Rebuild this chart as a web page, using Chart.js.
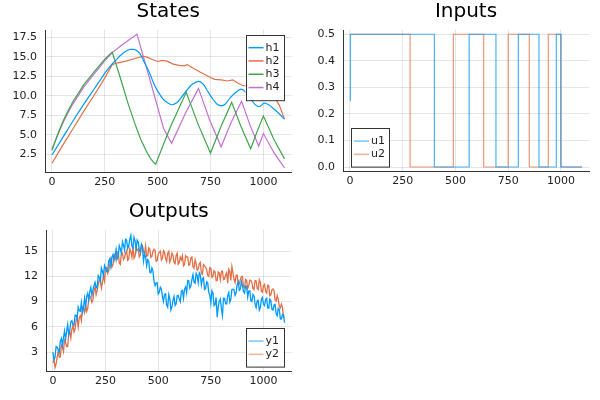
<!DOCTYPE html>
<html lang="en">
<head>
  <meta charset="UTF-8">
  <title>States, Inputs, Outputs</title>
  <script src="https://cdn.jsdelivr.net/npm/chart.js"></script>
  <style>
    body { margin: 0; background: #fff; }
    .panel { position: absolute; width: 300px; height: 200px; }
  </style>
</head>
<body>
  <div class="panel" style="left:0;top:0"><canvas id="statesChart" width="300" height="200"></canvas></div>
  <div class="panel" style="left:300px;top:0"><canvas id="inputsChart" width="300" height="200"></canvas></div>
  <div class="panel" style="left:0;top:200px"><canvas id="outputsChart" width="300" height="200"></canvas></div>

  <script>
    // Ticks
    var xTicks = [0, 250, 500, 750, 1000];
    var statesYTicks = [2.5, 5, 7.5, 10, 12.5, 15, 17.5];
    var statesYLabels = ['2.5', '5.0', '7.5', '10.0', '12.5', '15.0', '17.5'];
    var inputsYTicks = [0, 0.1, 0.2, 0.3, 0.4, 0.5];
    var inputsYLabels = ['0.0', '0.1', '0.2', '0.3', '0.4', '0.5'];
    var outputsYTicks = [3, 6, 9, 12, 15];
    var outputsYLabels = ['3', '6', '9', '12', '15'];

    // States (tank levels)
    var h1T = [0, 50, 100, 150, 200, 228, 250, 285, 300, 325, 350, 370, 385, 400, 415, 433, 450, 465, 481, 500, 528, 550, 567, 590, 615, 640, 665, 694, 715, 735, 760, 780, 802, 820, 845, 870, 895, 915, 940, 960, 980, 1005, 1025, 1050, 1075, 1100];
    var h1V = [2.4, 4.6, 6.8, 8.9, 10.9, 12.0, 12.9, 14.1, 14.5, 15.2, 15.7, 15.95, 15.95, 15.8, 15.45, 14.5, 13.6, 12.7, 11.6, 10.6, 9.5, 9.05, 8.85, 9.1, 9.9, 10.8, 11.5, 11.85, 11.5, 10.65, 9.6, 8.95, 8.7, 8.95, 9.8, 10.45, 10.85, 10.5, 9.6, 8.9, 8.6, 9.05, 8.85, 8.3, 7.7, 7.0];
    var h2T = [0, 50, 100, 150, 200, 250, 285, 300, 350, 400, 430, 450, 475, 500, 520, 545, 570, 600, 625, 640, 660, 700, 750, 770, 800, 830, 855, 880, 900, 925, 950, 975, 1000, 1025, 1050, 1075, 1100];
    var h2V = [1.35, 3.6, 5.8, 8.0, 10.1, 12.3, 14.0, 14.15, 14.45, 14.85, 15.05, 14.95, 14.65, 14.4, 14.55, 14.45, 14.1, 13.9, 13.85, 14.0, 13.65, 13.05, 12.35, 12.1, 12.05, 11.9, 12.05, 11.6, 11.35, 11.2, 10.95, 10.8, 10.7, 10.4, 9.9, 8.8, 7.0];
    var h3T = [0, 25, 50, 75, 100, 150, 200, 250, 285, 320, 360, 395, 420, 450, 470, 490, 560, 635, 692, 750, 800, 850, 895, 940, 970, 1000, 1050, 1100];
    var h3V = [3.0, 4.9, 6.6, 8.0, 9.3, 11.4, 13.1, 14.7, 15.6, 12.6, 9.0, 6.2, 4.4, 2.7, 1.8, 1.2, 6.0, 10.45, 6.3, 2.65, 6.1, 9.15, 6.0, 3.2, 5.4, 7.4, 4.4, 1.9];
    var h4T = [0, 25, 50, 75, 100, 150, 200, 250, 288, 320, 360, 402, 465, 528, 566, 630, 693, 746, 800, 848, 897, 937, 978, 1000, 1050, 1100];
    var h4V = [3.2, 4.8, 6.4, 7.8, 9.0, 11.1, 12.8, 14.5, 15.6, 16.3, 17.1, 17.9, 11.9, 5.8, 3.9, 7.7, 10.95, 6.9, 3.45, 6.6, 9.3, 6.2, 3.55, 5.15, 2.7, 0.75];

    // Inputs (switch times and the value held from each one)
    var u1T = [0, 2, 400, 565, 692, 798, 896, 978, 1000, 1100];
    var u1V = [0.25, 0.5, 0, 0.5, 0, 0.5, 0, 0.5, 0, 0];
    var u2T = [0, 285, 490, 634, 750, 850, 940, 1000, 1100];
    var u2V = [0.5, 0, 0.5, 0, 0.5, 0, 0.5, 0, 0];

    // Outputs (noisy measurements, sampled every 5)
    var outT = [0, 5, 10, 15, 20, 25, 30, 35, 40, 45, 50, 55, 60, 65, 70, 75, 80, 85, 90, 95,
      100, 105, 110, 115, 120, 125, 130, 135, 140, 145, 150, 155, 160, 165, 170, 175, 180, 185, 190, 195,
      200, 205, 210, 215, 220, 225, 230, 235, 240, 245, 250, 255, 260, 265, 270, 275, 280, 285, 290, 295,
      300, 305, 310, 315, 320, 325, 330, 335, 340, 345, 350, 355, 360, 365, 370, 375, 380, 385, 390, 395,
      400, 405, 410, 415, 420, 425, 430, 435, 440, 445, 450, 455, 460, 465, 470, 475, 480, 485, 490, 495,
      500, 505, 510, 515, 520, 525, 530, 535, 540, 545, 550, 555, 560, 565, 570, 575, 580, 585, 590, 595,
      600, 605, 610, 615, 620, 625, 630, 635, 640, 645, 650, 655, 660, 665, 670, 675, 680, 685, 690, 695,
      700, 705, 710, 715, 720, 725, 730, 735, 740, 745, 750, 755, 760, 765, 770, 775, 780, 785, 790, 795,
      800, 805, 810, 815, 820, 825, 830, 835, 840, 845, 850, 855, 860, 865, 870, 875, 880, 885, 890, 895,
      900, 905, 910, 915, 920, 925, 930, 935, 940, 945, 950, 955, 960, 965, 970, 975, 980, 985, 990, 995,
      1000, 1005, 1010, 1015, 1020, 1025, 1030, 1035, 1040, 1045, 1050, 1055, 1060, 1065, 1070, 1075, 1080, 1085, 1090, 1095,
      1100];
    var y1V = [3.0, 2.13, 2.45, 3.68, 3.6, 3.3, 3.0, 4.33, 4.65, 3.78, 4.7, 5.53, 4.55, 5.48, 6.3, 5.1, 5.6, 6.63, 6.75, 6.28,
      6.2, 7.4, 7.4, 6.93, 8.35, 7.95, 7.85, 8.88, 7.7, 8.3, 9.4, 8.4, 9.6, 10.0, 9.2, 10.2, 10.7, 9.7, 10.4, 10.9,
      11.3, 10.7, 10.6, 12.1, 11.9, 11.4, 13.0, 12.6, 12.1, 13.3, 13.0, 12.58, 12.65, 13.83, 14.1, 13.18, 14.25, 14.58, 13.9, 14.55,
      15.2, 14.05, 14.3, 15.63, 15.25, 14.78, 16.1, 15.7, 15.1, 16.4, 16.3, 15.28, 15.65, 16.4, 16.85, 15.55, 15.35, 16.63, 16.2, 15.25,
      16.3, 16.08, 15.15, 14.83, 15.8, 15.45, 13.8, 14.65, 14.3, 13.25, 14.0, 13.8, 12.5, 12.4, 13.0, 12.65, 11.4, 10.9, 11.2, 11.25,
      9.9, 10.1, 10.7, 10.5, 9.6, 9.03, 9.85, 9.93, 8.6, 8.33, 9.85, 9.38, 8.0, 8.39, 9.15, 9.61, 8.55, 8.73, 9.7, 9.75,
      9.3, 8.98, 10.25, 10.33, 9.4, 10.48, 10.75, 10.03, 11.5, 11.45, 10.6, 10.85, 11.6, 12.2, 11.3, 11.18, 12.35, 12.1, 11.25, 12.43,
      12.2, 11.0, 11.7, 11.83, 10.45, 10.55, 11.35, 11.23, 10.1, 9.8, 8.8, 10.3, 10.0, 8.53, 8.65, 9.5, 7.15, 8.35, 9.05, 9.33,
      8.2, 7.35, 9.4, 9.38, 8.75, 8.73, 9.7, 10.08, 8.95, 9.3, 10.45, 10.48, 10.4, 9.73, 10.05, 11.05, 11.35, 10.33, 10.5, 11.4,
      10.9, 10.2, 10.0, 10.85, 10.8, 9.53, 10.25, 10.28, 9.1, 9.03, 9.85, 9.68, 8.7, 8.3, 9.1, 9.15, 8.0, 8.3, 9.3, 9.5,
      8.7, 8.53, 9.25, 9.4, 8.25, 8.23, 9.3, 9.1, 8.1, 8.0, 8.6, 8.68, 7.55, 7.33, 8.2, 8.08, 6.95, 6.93, 7.5, 7.45,
      6.5];
    var y2V = [1.75, 2.08, 1.2, 1.63, 2.45, 3.08, 2.4, 2.43, 3.85, 3.68, 3.1, 4.43, 4.15, 3.68, 3.7, 5.13, 5.45, 4.68, 5.7, 6.2,
      5.4, 5.73, 6.85, 6.98, 6.0, 7.13, 7.35, 6.75, 8.35, 8.18, 7.7, 8.73, 7.85, 8.18, 9.3, 9.7, 9.4, 8.9, 9.2, 10.3,
      10.8, 9.83, 10.35, 11.08, 11.5, 11.8, 10.6, 11.23, 12.15, 11.48, 12.9, 13.03, 12.35, 12.68, 13.4, 14.05, 13.1, 13.4, 14.6, 14.55,
      13.9, 14.83, 14.95, 13.58, 13.4, 14.83, 14.75, 13.98, 14.2, 14.73, 15.05, 13.9, 14.05, 15.28, 14.9, 14.25, 15.5, 14.15, 14.4, 15.35,
      15.1, 15.25, 14.3, 14.53, 15.55, 15.65, 14.95, 14.63, 15.6, 14.38, 14.45, 15.38, 15.2, 14.23, 14.35, 14.98, 15.2, 15.05, 13.8, 13.9,
      14.6, 14.85, 15.0, 13.93, 14.15, 15.05, 14.85, 14.1, 13.75, 14.7, 14.95, 13.68, 14.0, 14.75, 14.5, 13.65, 13.5, 14.48, 14.75, 13.43,
      13.6, 14.28, 13.95, 14.45, 13.25, 13.4, 14.45, 14.28, 14.3, 13.3, 13.4, 14.2, 14.3, 13.13, 12.95, 13.98, 13.5, 12.73, 12.85, 13.5,
      13.65, 12.4, 12.25, 13.4, 13.25, 13.08, 12.8, 12.1, 12.0, 13.03, 12.95, 11.88, 12.0, 12.65, 12.5, 11.5, 11.5, 12.5, 12.4, 11.58,
      12.55, 12.63, 11.6, 11.68, 12.15, 12.43, 11.2, 12.83, 12.55, 11.5, 13.15, 12.4, 11.65, 11.25, 12.15, 12.15, 11.05, 11.08, 11.6, 11.95,
      12.0, 10.78, 10.65, 11.63, 11.5, 10.55, 10.9, 11.55, 11.5, 11.28, 10.55, 10.43, 11.5, 11.48, 10.55, 10.43, 11.6, 11.28, 10.25, 10.13,
      10.9, 11.05, 10.2, 10.03, 10.95, 10.88, 9.7, 9.8, 10.4, 10.5, 10.3, 9.23, 9.05, 9.73, 9.3, 8.43, 8.25, 8.7, 8.35, 7.13,
      7.2];

    function pts(t, v) {
      return t.map(function (x, i) { return { x: x, y: v[i] }; });
    }

    Chart.defaults.font.family = '"DejaVu Sans", sans-serif';
    Chart.defaults.font.size = 11;
    Chart.defaults.color = '#222';

    // legend box drawn inside the plot area, like the original
    var insideLegend = {
      id: 'insideLegend',
      afterDraw: function (chart, args, opts) {
        var ctx = chart.ctx, a = chart.chartArea, sets = chart.data.datasets;
        var rowH = 13.3, w = 38, h = sets.length * rowH + 12;
        var x = opts.right ? a.right - 8 - w : a.left + 8;
        var y = opts.top ? a.top + 5 : a.bottom - 4 - h;
        ctx.save();
        ctx.fillStyle = '#fff';
        ctx.fillRect(x, y, w, h);
        ctx.strokeStyle = '#333';
        ctx.lineWidth = 1;
        ctx.strokeRect(Math.round(x) + 0.5, Math.round(y) + 0.5, w, h);
        ctx.font = '11px "DejaVu Sans"';
        ctx.textBaseline = 'middle';
        sets.forEach(function (ds, i) {
          var cy = y + 6 + rowH * (i + 0.5);
          ctx.strokeStyle = ds.legendColor || ds.borderColor;
          ctx.lineWidth = 1.5;
          ctx.beginPath();
          ctx.moveTo(x + 3, cy);
          ctx.lineTo(x + 18, cy);
          ctx.stroke();
          ctx.fillStyle = '#222';
          ctx.fillText(ds.label, x + 20, cy);
        });
        ctx.restore();
      }
    };

    function panelOptions(title, yMin, yMax, yTicks, yLabels, yWidth, pad, legendPos) {
      return {
        responsive: false,
        animation: false,
        layout: { padding: pad },
        elements: { point: { radius: 0 }, line: { borderWidth: 1.2 } },
        scales: {
          x: {
            type: 'linear', min: -33, max: 1133,
            afterBuildTicks: function (s) { s.ticks = xTicks.map(function (v) { return { value: v }; }); },
            afterFit: function (s) { s.height = 20; },
            ticks: { padding: 4, maxRotation: 0, autoSkip: false, callback: function (v, i) { return String(xTicks[i]); } },
            grid: { color: 'rgba(0,0,0,0.1)', drawTicks: false },
            border: { color: '#333', width: 1 }
          },
          y: {
            min: yMin, max: yMax,
            afterBuildTicks: function (s) { s.ticks = yTicks.map(function (v) { return { value: v }; }); },
            afterFit: function (s) { s.width = yWidth; },
            ticks: { padding: 8, autoSkip: false, callback: function (v, i) { return yLabels[i]; } },
            grid: { color: 'rgba(0,0,0,0.1)', drawTicks: false },
            border: { color: '#333', width: 1 }
          }
        },
        plugins: {
          legend: { display: false },
          tooltip: { enabled: false },
          title: {
            display: true, text: title, fullSize: false, color: '#000',
            font: { size: 20, weight: 'normal' }, padding: { top: 0, bottom: 6 }
          },
          insideLegend: legendPos
        }
      };
    }

    new Chart(document.getElementById('statesChart'), {
      type: 'line',
      data: {
        datasets: [
          { label: 'h1', data: pts(h1T, h1V), borderColor: '#009AFA', cubicInterpolationMode: 'monotone' },
          { label: 'h2', data: pts(h2T, h2V), borderColor: '#E36F47' },
          { label: 'h3', data: pts(h3T, h3V), borderColor: '#3EA44E' },
          { label: 'h4', data: pts(h4T, h4V), borderColor: '#C371D2' }
        ]
      },
      options: panelOptions('States', 0.22, 18.44, statesYTicks, statesYLabels, 45,
        { left: 0, right: 8.5, top: 0, bottom: 8 }, { right: true, top: true }),
      plugins: [insideLegend]
    });

    new Chart(document.getElementById('inputsChart'), {
      type: 'line',
      data: {
        datasets: [
          { label: 'u1', data: pts(u1T, u1V), borderColor: 'rgba(0,154,250,0.72)', legendColor: 'rgba(0,154,250,0.55)', stepped: 'before' },
          { label: 'u2', data: pts(u2T, u2V), borderColor: 'rgba(227,111,71,0.72)', legendColor: 'rgba(227,111,71,0.55)', stepped: 'before' }
        ]
      },
      options: panelOptions('Inputs', -0.015, 0.516, inputsYTicks, inputsYLabels, 43,
        { left: 0, right: 11, top: 0, bottom: 9 }, { right: false, top: false }),
      plugins: [insideLegend]
    });

    new Chart(document.getElementById('outputsChart'), {
      type: 'line',
      data: {
        datasets: [
          { label: 'y1', data: pts(outT, y1V), borderColor: '#009AFA', legendColor: 'rgba(0,154,250,0.55)', borderWidth: 1.3 },
          { label: 'y2', data: pts(outT, y2V), borderColor: '#E36F47', legendColor: 'rgba(227,111,71,0.55)', borderWidth: 1.3 }
        ]
      },
      options: panelOptions('Outputs', 0.78, 17.49, outputsYTicks, outputsYLabels, 46,
        { left: 0, right: 8.5, top: 0, bottom: 9 }, { right: true, top: false }),
      plugins: [insideLegend]
    });
  </script>
</body>
</html>
